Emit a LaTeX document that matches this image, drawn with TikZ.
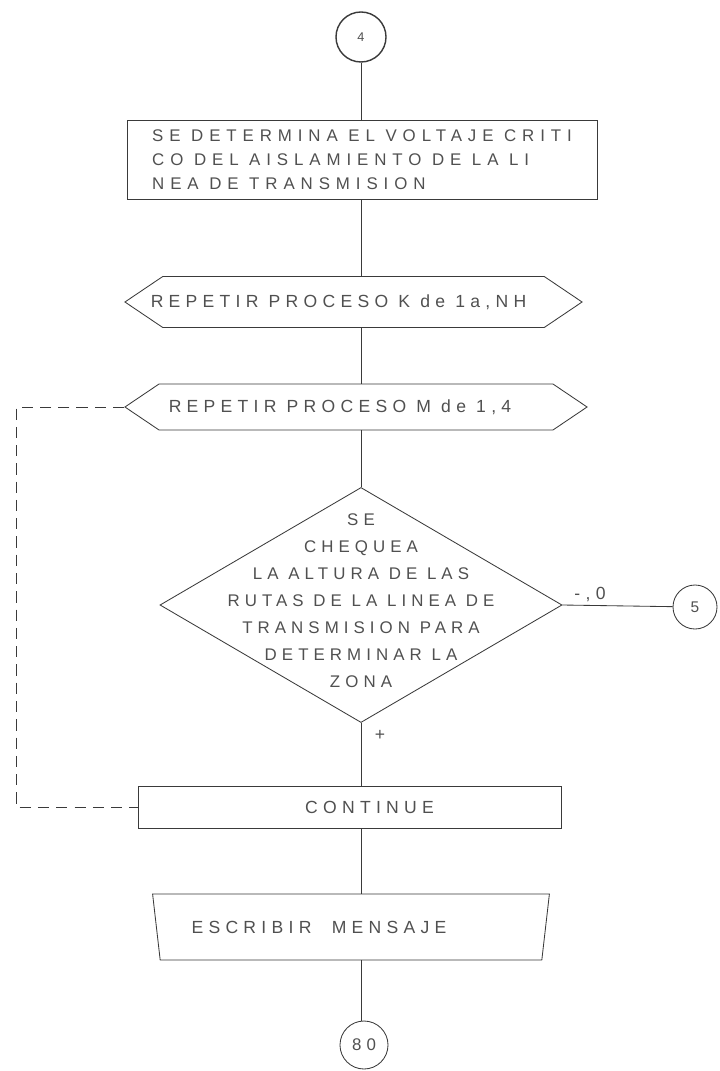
\documentclass[tikz,border=0pt]{standalone}
\usepackage{fontspec}
\newfontfamily\letra[LetterSpace=30]{Liberation Sans}
\newfontfamily\letraancha[LetterSpace=35]{Liberation Sans}
\usepackage{tikz}
\usetikzlibrary{arrows.meta,positioning,shapes.geometric,shapes.symbols}
\definecolor{InkGray}{HTML}{3A3A3A}
\definecolor{TextGray}{HTML}{505050}

\begin{document}
\begin{tikzpicture}[
  x=0.025cm, y=-0.025cm,
  every node/.style={font=\letra\fontsize{12.5}{17}\selectfont, text=TextGray},
  proc/.style={draw=InkGray, line width=0.6pt, rectangle,
    minimum width=11.75cm, minimum height=1.975cm, inner sep=0pt},
  loophex/.style={draw=InkGray, line width=0.6pt, signal,
    signal to=west and east, signal pointer angle=68, inner sep=0pt},
  test/.style={draw=InkGray, line width=0.6pt, diamond,
    minimum width=10.05cm, minimum height=5.875cm, inner sep=0pt,
    font=\letra\fontsize{12}{19.2}\selectfont},
  outp/.style={draw=InkGray, line width=0.6pt, trapezium,
    shape border rotate=180, trapezium stretches=true,
    trapezium left angle=63, trapezium right angle=63,
    minimum width=9.95cm, minimum height=1.65cm, inner sep=0pt},
  conn/.style={draw=InkGray, line width=0.6pt, circle, inner sep=0pt,
    font=\letra\fontsize{11}{12}\selectfont},
  flow/.style={InkGray, line width=0.6pt},
  dashflow/.style={flow, dash pattern=on 8pt off 5pt}
]
  \useasboundingbox (0,0) rectangle (720,1071);

  \node[conn, minimum size=1.25cm, line width=1pt, font=\letra\fontsize{9}{10}\selectfont] (c4) at (361,37) {4};
  \node[proc, align=left, font=\letraancha\fontsize{12}{17}\selectfont] (box1) at (362,160)
    {SE DETERMINA EL VOLTAJE CRITI\\CO DEL AISLAMIENTO DE LA LI\\NEA DE TRANSMISION};
  \node[loophex, minimum width=11.425cm, minimum height=1.275cm] (hex1) at (353.5,302)
    {\hspace*{-0.75cm}REPETIR PROCESO K de 1a,NH};
  \node[loophex, minimum width=11.55cm, minimum height=1.15cm] (hex2) at (356,407)
    {\hspace*{-0.8cm}REPETIR PROCESO M de 1,4};
  \node[test] (chk) at (361,605)
    {\makebox[0pt]{\smash{\parbox{8cm}{\centering SE\\CHEQUEA\\LA ALTURA DE LAS\\RUTAS DE LA LINEA DE\\TRANSMISION PARA\\DETERMINAR LA\\ZONA}}}};
  \node[conn, minimum size=1.1cm] (c5) at (695,607) {5};
  \node (neg) at (590,594) {-,0};
  \node (pos) at (380,735) {+};
  \node[proc, minimum width=10.575cm, minimum height=1.05cm] (cont) at (349.5,807)
    {\hspace*{1cm}CONTINUE};
  \node[outp] (wr) at (351,927) {ESCRIBIR\ \ MENSAJE\hspace*{1.6cm}};
  \node[conn, minimum size=1.2cm, font=\letra\fontsize{12}{13}\selectfont] (c80) at (364,1045) {80};
  \coordinate (back) at (16,407);

  \draw[flow] (c4.south) -- (c4.south |- box1.north);
  \draw[flow] (box1.south -| c4) -- (c4 |- hex1.north);
  \draw[flow] (hex1.south -| c4) -- (c4 |- hex2.north);
  \draw[flow] (hex2.south -| c4) -- (chk.north);
  \draw[flow] (chk.south) -- (cont.north -| c4);
  \draw[flow] (cont.south -| c4) -- (c4 |- wr.north);
  \draw[flow] (wr.south -| c4) -- (c4 |- c80.north);
  \draw[flow] (chk.east) -- (c5);
  \draw[dashflow] (hex2.west) -- (back) |- (cont.west);
\end{tikzpicture}
\end{document}
